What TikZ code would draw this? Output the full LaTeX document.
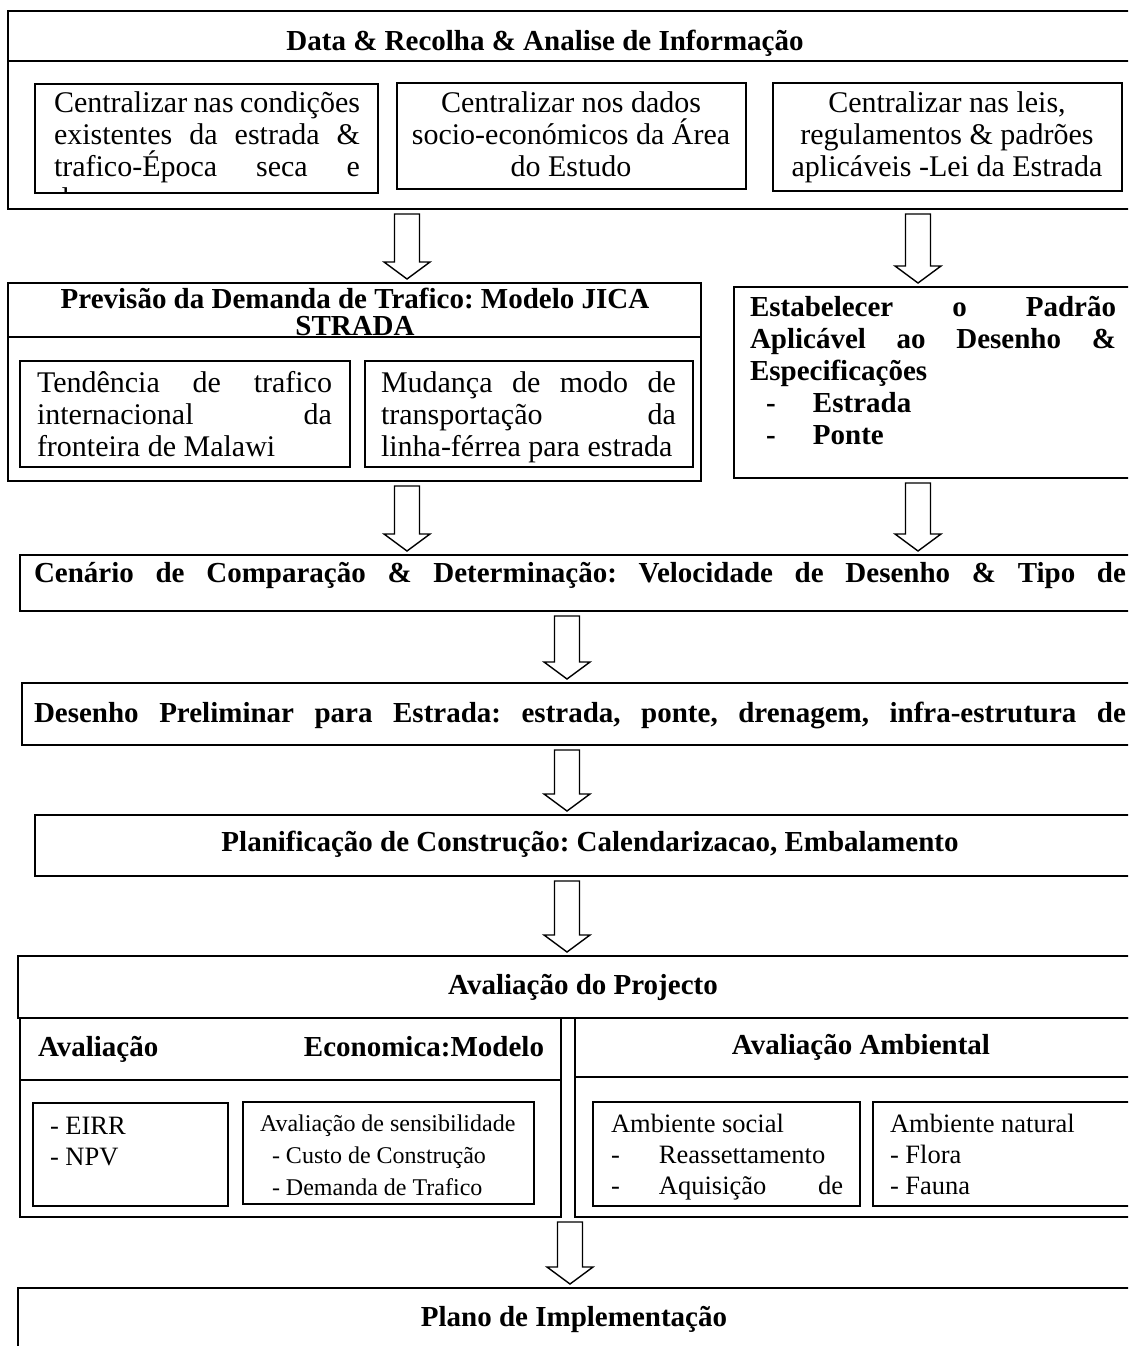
\documentclass[tikz,border=0pt]{standalone}
\usepackage{fontspec}
\setmainfont{Liberation Serif}
\usetikzlibrary{calc}
\frenchspacing

% strut fixing the first baseline 28pt below a text node's top
\newcommand{\ts}{\rule{0pt}{28pt}}
% a line stretched to a given width (justified)
\newcommand{\jl}[2]{\makebox[#1pt][s]{#2}}

% outlined block arrow from the bottom of one box to the top of the next
\newcommand{\flowarrow}[3]{%
  \draw[flow] let \p1=(#2.south), \p2=(#3.north) in
    ({#1pt-12.5pt},{\y1-5pt}) -- ({#1pt+12.5pt},{\y1-5pt})
    -- ({#1pt+12.5pt},{\y2+21pt}) -- ({#1pt+23pt},{\y2+21pt})
    -- ({#1pt},{\y2+4pt}) -- ({#1pt-23pt},{\y2+21pt})
    -- ({#1pt-12.5pt},{\y2+21pt}) -- cycle;}

\tikzset{
  frame/.style={draw, line width=1.9pt, outer sep=0pt, inner sep=0pt, anchor=north west},
  rulex/.style={line width=1.9pt},
  lbl/.style={inner sep=0pt, outer sep=0pt, align=left, font=\fontsize{30}{32}\selectfont},
  hd/.style={inner sep=0pt, outer sep=0pt, font=\bfseries\fontsize{29}{32}\selectfont},
  sm/.style={inner sep=0pt, outer sep=0pt, align=left, font=\fontsize{26.5}{31}\selectfont},
  smr/.style={inner sep=0pt, outer sep=0pt, align=left, font=\fontsize{24}{32}\selectfont},
  flow/.style={draw, line width=1.4pt, fill=white, line join=miter},
}

\begin{document}
\begin{tikzpicture}[x=1pt,y=-1pt]
\useasboundingbox (0,0) rectangle (1128,1346);
\fill[white] (0,0) rectangle (1128,1346);
\clip (0,0) rectangle (1128,1346);

% ---------- data collection ----------
\node[frame, minimum width=1132pt, minimum height=198pt] (data) at (8,11) {};
\draw[rulex] (8,61) -- (1140,61);
\node[hd, anchor=base] (dataT) at (545,51) {Data \& Recolha \& Analise de Informação};

\node[frame, minimum width=343pt, minimum height=109pt] (d1) at (35,84) {};
\begin{scope}
  \clip (35,84) rectangle (378,193);
  \node[lbl, anchor=north west] (d1T) at (54,84)
    {\ts\jl{306}{Centralizar nas condições}\\\jl{306}{existentes da estrada \&}\\\jl{306}{trafico-Época seca e}\\d};
\end{scope}

\node[frame, minimum width=349pt, minimum height=106pt] (d2) at (397,83) {};
\node[lbl, align=center, anchor=north] (d2T) at (571,84)
  {\ts Centralizar nos dados\\socio-económicos da Área\\do Estudo};

\node[frame, minimum width=349pt, minimum height=108pt] (d3) at (773,83) {};
\node[lbl, align=center, anchor=north] (d3T) at (947,84)
  {\ts Centralizar nas leis,\\regulamentos \& padrões\\aplicáveis -Lei da Estrada};

% ---------- traffic demand forecast ----------
\node[frame, minimum width=693pt, minimum height=198pt] (prev) at (8,283) {};
\draw[rulex] (8,337) -- (701,337);
\node[inner sep=0pt, align=center, anchor=north, font=\bfseries\fontsize{29}{27}\selectfont] (prevT) at (355,280)
  {\ts Previsão da Demanda de Trafico: Modelo JICA\\STRADA};

\node[frame, minimum width=330pt, minimum height=106pt] (p1) at (20,361) {};
\node[lbl, anchor=north west] (p1T) at (37,364)
  {\ts\jl{295}{Tendência de trafico}\\\jl{295}{internacional da}\\fronteira de Malawi};

\node[frame, minimum width=328pt, minimum height=106pt] (p2) at (365,361) {};
\node[lbl, anchor=north west] (p2T) at (381,364)
  {\ts\jl{295}{Mudança de modo de}\\\jl{295}{transportação da}\\linha-férrea para estrada};

% ---------- design standards ----------
\node[frame, minimum width=420pt, minimum height=191pt] (std) at (734,287) {};
\node[lbl, font=\bfseries\fontsize{29}{32}\selectfont, anchor=north west] (stdT) at (750,288)
  {\ts\jl{366}{Estabelecer o Padrão}\\\jl{366}{Aplicável ao Desenho \&}\\Especificações\\
   \makebox[63pt][l]{\hspace{16pt}-}Estrada\\\makebox[63pt][l]{\hspace{16pt}-}Ponte};

% ---------- scenario comparison ----------
\node[frame, minimum width=1130pt, minimum height=56pt] (cen) at (20,555) {};
\node[hd, anchor=base west] (cenT) at (34,582)
  {\jl{1092}{Cenário de Comparação \& Determinação: Velocidade de Desenho \& Tipo de}};

% ---------- preliminary design ----------
\node[frame, minimum width=1130pt, minimum height=62pt] (des) at (22,683) {};
\node[hd, anchor=base west] (desT) at (34,722)
  {\jl{1092}{Desenho Preliminar para Estrada: estrada, ponte, drenagem, infra-estrutura de}};

% ---------- construction planning ----------
\node[frame, minimum width=1110pt, minimum height=61pt] (plan) at (35,815) {};
\node[hd, anchor=base] (planT) at (590,851) {Planificação de Construção: Calendarizacao, Embalamento};

% ---------- project evaluation ----------
\node[frame, minimum width=1130pt, minimum height=62pt] (aval) at (18,956) {};
\node[hd, anchor=base] (avalT) at (583,994) {Avaliação do Projecto};

\node[frame, minimum width=541pt, minimum height=199pt] (eco) at (20,1018) {};
\draw[rulex] (20,1080) -- (561,1080);
\node[hd, anchor=base west] (ecoT) at (38,1056) {\jl{506}{Avaliação Economica:Modelo}};

\node[frame, minimum width=575pt, minimum height=199pt] (amb) at (575,1018) {};
\draw[rulex] (575,1077) -- (1150,1077);
\node[hd, anchor=base] (ambT) at (861,1054) {Avaliação Ambiental};

\node[frame, minimum width=195pt, minimum height=103pt] (eirr) at (33,1103) {};
\node[sm, anchor=north west] (eirrT) at (50,1106) {\ts - EIRR\\- NPV};

\node[frame, minimum width=291pt, minimum height=102pt] (sens) at (243,1102) {};
\node[smr, anchor=north west] (sensT) at (260,1103)
  {\ts Avaliação de sensibilidade\\\hspace{12pt}- Custo de Construção\\\hspace{12pt}- Demanda de Trafico};

\node[frame, minimum width=267pt, minimum height=104pt] (soc) at (593,1102) {};
\node[sm, anchor=north west] (socT) at (611,1104)
  {\ts Ambiente social\\\makebox[48pt][l]{-}Reassettamento\\\makebox[232pt][s]{\makebox[48pt][l]{-}Aquisição de}};

\node[frame, minimum width=280pt, minimum height=104pt] (nat) at (873,1102) {};
\node[sm, anchor=north west] (natT) at (890,1104) {\ts Ambiente natural\\- Flora\\- Fauna};

% ---------- implementation plan ----------
\node[frame, minimum width=1130pt, minimum height=100pt] (plano) at (18,1288) {};
\node[hd, anchor=base] (planoT) at (574,1326) {Plano de Implementação};

% ---------- flow arrows ----------
\flowarrow{407}{data}{prev}
\flowarrow{918}{data}{std}
\flowarrow{407}{prev}{cen}
\flowarrow{918}{std}{cen}
\flowarrow{567}{cen}{des}
\flowarrow{567}{des}{plan}
\flowarrow{567}{plan}{aval}
\flowarrow{570}{eco}{plano}
\end{tikzpicture}
\end{document}
